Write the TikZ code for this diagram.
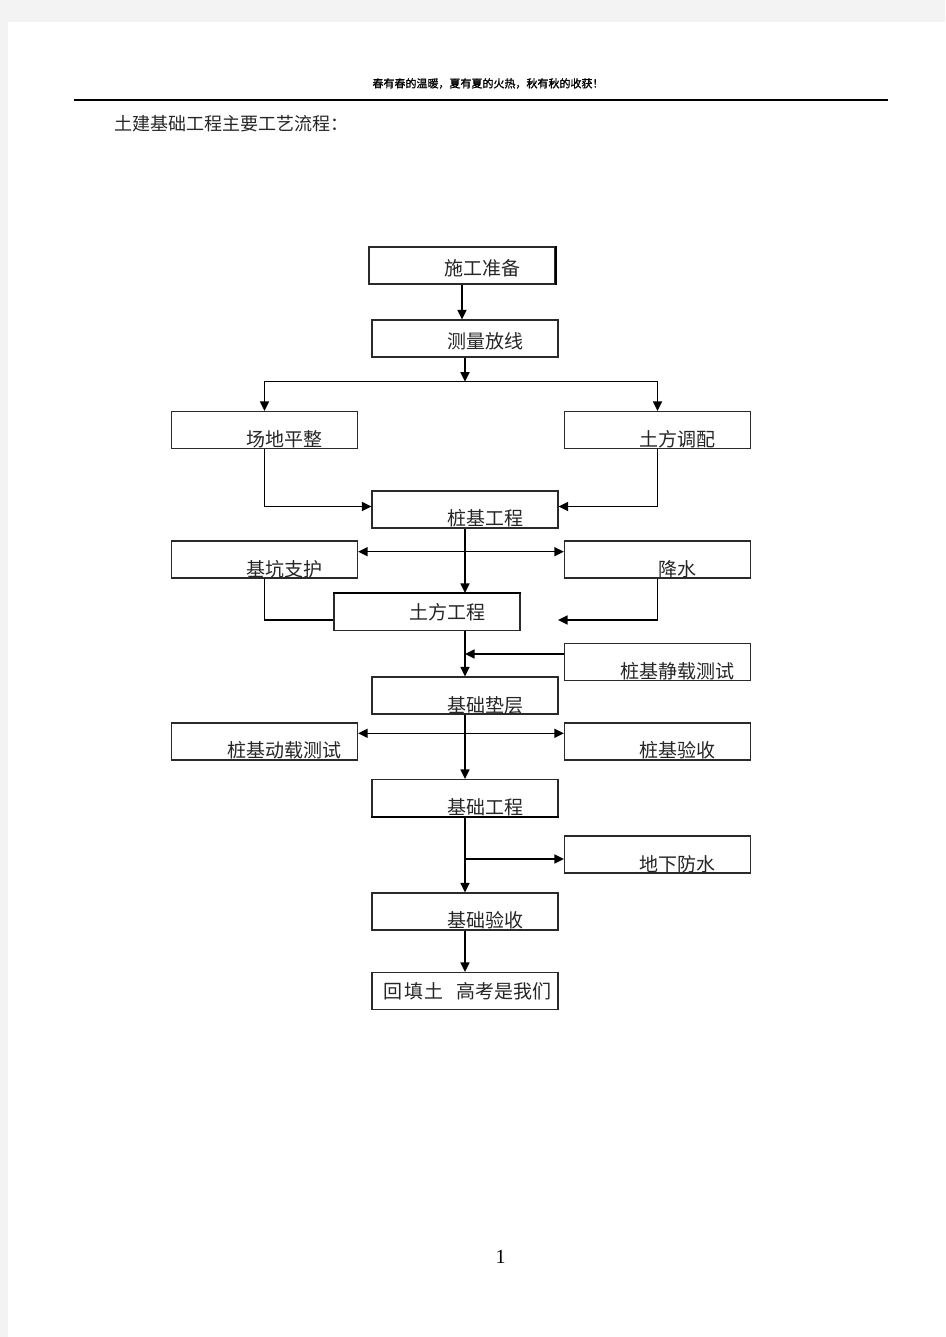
\documentclass[tikz,border=0pt]{standalone}
\usepackage{fontspec}
\setmainfont{Liberation Serif}
\newfontfamily\cjk{Noto Sans CJK SC}
\newfontfamily\cjkbold[FakeBold=1.2]{Noto Sans CJK SC}
\usetikzlibrary{positioning, calc, arrows.meta}
\definecolor{pagegray}{HTML}{F3F3F3}
\definecolor{linegray}{HTML}{2A2A2A}

\begin{document}
\begin{tikzpicture}[
    x=1pt, y=-1pt,
    flowbox/.style={
        draw=linegray,
        line width=1.2pt,
        minimum width=186pt,
        minimum height=37pt,
        inner sep=0pt
    },
    boxtext/.style={
        font=\cjk\fontsize{19}{19}\selectfont,
        text=black!85,
        inner sep=0pt
    },
    link/.style={
        draw=black,
        line width=1.5pt
    },
    flow/.style={
        link,
        -{Triangle[length=9.5pt, width=9pt]}
    },
    flowboth/.style={
        link,
        {Triangle[length=9.5pt, width=9pt]}-{Triangle[length=9.5pt, width=9pt]}
    }
]

% --- PAGE ---
\useasboundingbox (0,0) rectangle (945,1337);
\fill[pagegray] (0,0) rectangle (945,1337);
\fill[white] (8,22) rectangle (945,1337);

% --- HEADER ---
\node[font=\cjkbold\fontsize{11}{11}\selectfont, inner sep=0pt] (motto) at (488,83.5)
    {春有春的温暖，夏有夏的火热，秋有秋的收获！};
\draw[line width=1.1pt] (73.5,100) -- (888,100);
\node[font=\cjk\fontsize{18}{18}\selectfont, text=black!85, anchor=west, inner sep=0pt]
    (title) at (114,124) {土建基础工程主要工艺流程：};

% --- MACRO: DRAW BOX ---
\newcommand{\drawbox}[4]{
    \node[flowbox] (#1) at (#2) {};
    \node[boxtext] (#1txt) at ($(#1)+(#3)$) {#4};
}

% --- BOXES ---
\drawbox{prep}{462,265.5}{20,2.5}{施工准备}
\drawbox{survey}{465,338.5}{20,3}{测量放线}
\drawbox{level}{264.5,430}{20,9.5}{场地平整}
\drawbox{earthmix}{657.5,430}{20,9.5}{土方调配}
\drawbox{pile}{465,509.5}{20,9}{桩基工程}
\drawbox{support}{264.5,559.5}{20,9.5}{基坑支护}
\drawbox{dewater}{657.5,559.5}{20,9.5}{降水}
\drawbox{earth}{427,612}{20.5,0.5}{土方工程}
\drawbox{static}{657.5,662}{20,9.5}{桩基静载测试}
\drawbox{cushion}{465,695.5}{20,9.5}{基础垫层}
\drawbox{dynamic}{264.5,741.5}{20,9}{桩基动载测试}
\drawbox{pileacc}{657.5,741.5}{20,9}{桩基验收}
\drawbox{found}{465,798}{20,9}{基础工程}
\drawbox{water}{657.5,854.5}{20,9.5}{地下防水}
\drawbox{foundacc}{465,911.5}{20,8.5}{基础验收}
\drawbox{backfill}{465,991}{2,0.7}{回\hspace{2pt}填\hspace{2pt}土\hspace{12pt}高考是我们}

% heavier edges
\draw[line width=2pt] (prep.north east) -- (prep.south east);
\draw[line width=2.2pt] (earth.north west) -- (earth.north east);
\draw[line width=2.2pt] (found.south west) -- (found.south east);

% --- COORDINATES ---
\coordinate (split) at (465,381.7);
\coordinate (cross1) at (465,551.7);
\coordinate (dwend) at (558,620);
\coordinate (join) at (465,654);
\coordinate (cross2) at (465,733.3);
\coordinate (cross3) at (465,859);

% --- ARROWS ---
\draw[flow] (prep.south) -- (prep.south |- survey.north);
\draw[flow] (survey.south) -- (split);
\draw[flow] (split) -| (level.north);
\draw[flow] (split) -| (earthmix.north);
\draw[flow] (level.south) |- ([yshift=3pt]pile.west);
\draw[flow] (earthmix.south) |- ([yshift=3pt]pile.east);
\draw[flow] (pile.south) -- (pile.south |- earth.north);
\draw[flowboth] (support.east |- cross1) -- (dewater.west |- cross1);
\draw[link] (support.south) |- ([yshift=-8pt]earth.west);
\draw[flow] (dewater.south) |- (dwend);
\draw[flow] (cushion.north |- earth.south) -- (cushion.north);
\draw[flow] (static.west |- join) -- (join);
\draw[flowboth] (dynamic.east |- cross2) -- (pileacc.west |- cross2);
\draw[flow] (cushion.south) -- (found.north);
\draw[flow] (found.south) -- (foundacc.north);
\draw[flow] (cross3) -- (water.west |- cross3);
\draw[flow] (foundacc.south) -- (backfill.north);

% --- PAGE NUMBER ---
\node[font=\fontsize{20}{20}\selectfont, inner sep=0pt] (pagenum) at (500.5,1257) {1};

\end{tikzpicture}
\end{document}
